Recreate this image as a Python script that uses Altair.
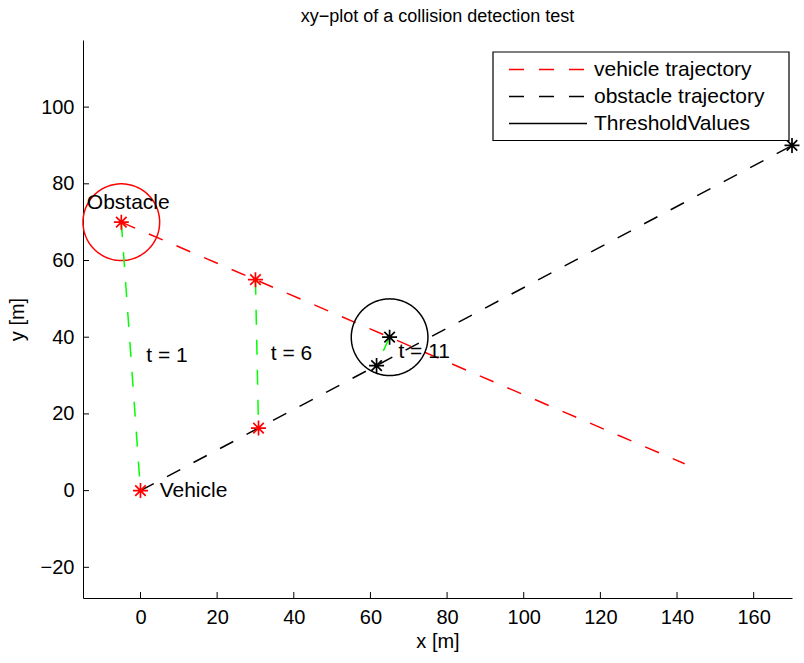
import numpy as np
import pandas as pd
import altair as alt

FONT = "Liberation Sans"

# Trajectory end points [m]
veh_x = [-5, 142]
veh_y = [70, 7]
obs_x = [0, 170]
obs_y = [0, 90]

# Positions at the sampled time steps t = 1, 6, 11
veh_pos_x = [-5, 30, 65]
veh_pos_y = [70, 55, 40]
obs_pos_x = [0, 30.8, 61.6]
obs_pos_y = [0, 16.3, 32.6]
step_colors = ["red", "red", "black"]

# Final obstacle position
end_x = [170]
end_y = [90]

# Threshold circles around the vehicle positions
circle_x = [-5, 65]
circle_y = [70, 40]
circle_r = [10, 10]

# Annotations
label_text = ["Obstacle", "Vehicle", "t = 1", "t = 6", "t = 11"]
label_x = [-14, 5, 1.5, 34, 67.3]
label_y = [75, 0, 35, 35.5, 36.2]

x_ticks = [0, 20, 40, 60, 80, 100, 120, 140, 160]
y_ticks = [-20, 0, 20, 40, 60, 80, 100]

X_DOMAIN = [-15, 170]
Y_DOMAIN = [-28, 117.5]
W, H = 709, 558

series_names = ["vehicle trajectory", "obstacle trajectory", "ThresholdValues"]

# ---- line table (trajectories + black threshold circle) ----
rows = []
for i, (x, y) in enumerate(zip(veh_x, veh_y)):
    rows.append(dict(x=x, y=y, series=series_names[0], path="veh", k=i))
for i, (x, y) in enumerate(zip(obs_x, obs_y)):
    rows.append(dict(x=x, y=y, series=series_names[1], path="obs", k=i))

ang = np.linspace(0, 2 * np.pi, 181)
circle_rows = []
for c, (cx, cy, r) in enumerate(zip(circle_x, circle_y, circle_r)):
    for i, a in enumerate(ang):
        circle_rows.append(dict(x=cx + r * np.cos(a), y=cy + r * np.sin(a),
                                path=f"c{c}", k=i))
circles = pd.DataFrame(circle_rows)
black_circle = circles[circles.path == "c1"].assign(series=series_names[2])
red_circle = circles[circles.path == "c0"]

lines = pd.concat([pd.DataFrame(rows), black_circle], ignore_index=True)

# ---- distance segments (vehicle -> obstacle at each step) ----
seg_rows = []
for s in range(len(veh_pos_x)):
    seg_rows.append(dict(x=veh_pos_x[s], y=veh_pos_y[s], path=f"s{s}", k=0))
    seg_rows.append(dict(x=obs_pos_x[s], y=obs_pos_y[s], path=f"s{s}", k=1))
segments = pd.DataFrame(seg_rows)

# ---- markers ----
markers = pd.DataFrame(dict(
    x=veh_pos_x + obs_pos_x + end_x,
    y=veh_pos_y + obs_pos_y + end_y,
    c=step_colors + step_colors + ["black"],
))

labels = pd.DataFrame(dict(x=label_x, y=label_y, text=label_text))
xt = pd.DataFrame(dict(x=x_ticks))
yt = pd.DataFrame(dict(y=y_ticks))

xs = alt.Scale(domain=X_DOMAIN, nice=False, zero=False)
ys = alt.Scale(domain=Y_DOMAIN, nice=False, zero=False)

x_axis = alt.Axis(values=x_ticks, ticks=False, grid=False, domainColor="black",
                  labelFontSize=20, labelFont=FONT, labelColor="black", labelPadding=9,
                  title="x [m]", titleFontSize=20, titleFont=FONT,
                  titleFontWeight="normal", titleColor="black", titlePadding=4)
y_axis = alt.Axis(values=y_ticks, ticks=False, grid=False, domainColor="black",
                  labelFontSize=20, labelFont=FONT, labelColor="black", labelPadding=9,
                  title="y [m]", titleFontSize=20, titleFont=FONT,
                  titleFontWeight="normal", titleColor="black", titlePadding=13)

# legend frame (pixel box inside the plot area, top-right)
LEG_X0, LEG_X1, LEG_Y0, LEG_Y1 = 410, 706, 12, 100.5

legend = alt.Legend(
    orient="none", legendX=LEG_X0, legendY=LEG_Y0, title=None,
    symbolType="stroke", symbolSize=6084, symbolStrokeWidth=1.5,
    clipHeight=27, rowPadding=0, padding=4,
    labelFontSize=21, labelFont=FONT, labelColor="black", labelLimit=0,
    labelOffset=6, symbolOffset=11,
)

DASH = [15, 15]

traj = alt.Chart(lines).mark_line(strokeWidth=1.5).encode(
    x=alt.X("x:Q", scale=xs, axis=x_axis),
    y=alt.Y("y:Q", scale=ys, axis=y_axis),
    color=alt.Color("series:N", sort=series_names,
                    scale=alt.Scale(domain=series_names, range=["red", "black", "black"]),
                    legend=legend),
    strokeDash=alt.StrokeDash("series:N", sort=series_names,
                              scale=alt.Scale(domain=series_names,
                                              range=[DASH, DASH, [1, 0]]),
                              legend=legend),
    detail="path:N",
    order="k:Q",
)

red_ring = alt.Chart(red_circle).mark_line(strokeWidth=1.5, color="red").encode(
    x="x:Q", y="y:Q", detail="path:N", order="k:Q")

gaps = alt.Chart(segments).mark_line(strokeWidth=1.5, color="#00ff00",
                                     strokeDash=DASH).encode(
    x="x:Q", y="y:Q", detail="path:N", order="k:Q")

STAR = "M0,-1L0,1M-1,0L1,0M-0.7,-0.7L0.7,0.7M-0.7,0.7L0.7,-0.7"
stars = alt.Chart(markers).mark_point(shape=STAR, filled=False, size=225,
                                      strokeWidth=1.7, opacity=1).encode(
    x="x:Q", y="y:Q", color=alt.Color("c:N", scale=None))

texts = alt.Chart(labels).mark_text(align="left", baseline="middle", fontSize=21,
                                    font=FONT, color="black").encode(
    x="x:Q", y="y:Q", text="text:N")

x_ticks_layer = alt.Chart(xt).mark_rule(color="black", strokeWidth=1).encode(
    x="x:Q", y=alt.value(H), y2=alt.value(H - 6))
y_ticks_layer = alt.Chart(yt).mark_rule(color="black", strokeWidth=1).encode(
    y="y:Q", x=alt.value(0), x2=alt.value(6))

legend_box = alt.Chart(pd.DataFrame({"box": [0]})).mark_rect(
    fill="white", stroke="black", strokeWidth=1.2).encode(
    x=alt.value(LEG_X0), x2=alt.value(LEG_X1),
    y=alt.value(LEG_Y0), y2=alt.value(LEG_Y1))

chart = alt.layer(
    traj, red_ring, gaps, stars, texts, x_ticks_layer, y_ticks_layer, legend_box
).properties(
    width=W, height=H,
    title=alt.TitleParams("xy−plot of a collision detection test", fontSize=18,
                          font=FONT, fontWeight="normal", color="black",
                          anchor="middle", offset=14),
    padding={"left": 83, "top": 40, "right": 12, "bottom": 65},
    autosize=alt.AutoSizeParams(type="none"),
    background="white",
).configure_view(stroke=None)

chart.save("out.html", embed_options={"renderer": "svg", "actions": False})
